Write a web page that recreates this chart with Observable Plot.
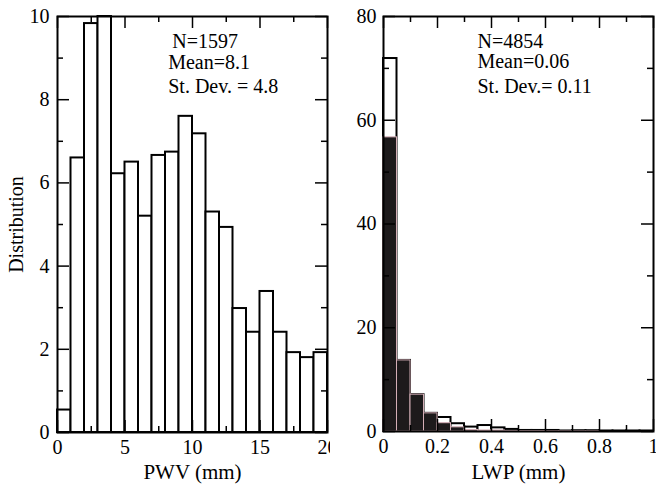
<!DOCTYPE html>
<html>
<head>
<meta charset="utf-8">
<script src="https://cdn.jsdelivr.net/npm/d3@7"></script>
<script src="https://cdn.jsdelivr.net/npm/@observablehq/plot@0.6"></script>
<style>
  body { margin: 0; background: #fff; }
  #wrap { position: relative; width: 656px; height: 486px; background: #fff; }
  #left { position: absolute; left: 0; top: 0; width: 330px; height: 486px; overflow: hidden; }
  #right { position: absolute; left: 330px; top: 0; width: 326px; height: 486px; overflow: hidden; }
</style>
</head>
<body>
<div id="wrap"><div id="left"></div><div id="right"></div></div>
<script>
// ---- Left panel: PWV histogram ----
const pwvBinStart = [0,1,2,3,4,5,6,7,8,9,10,11,12,13,14,15,16,17,18,19];
const pwvBinEnd   = [1,2,3,4,5,6,7,8,9,10,11,12,13,14,15,16,17,18,19,20];
const pwvValues   = [0.54,6.6,9.83,10.0,6.22,6.5,5.2,6.66,6.74,7.6,7.18,5.3,4.93,2.98,2.41,3.39,2.41,1.92,1.8,1.92];
const pwvXTickLabels = [0,5,10,15,20];
const pwvXMinor = [2.5,7.5,12.5,17.5];
const pwvYTickLabels = [0,2,4,6,8,10];
const pwvYMinor = [1,3,5,7,9];
const pwvStats = ["N=1597","Mean=8.1","St. Dev. = 4.8"];
const pwvXLabel = "PWV (mm)";
const pwvYLabel = "Distribution";

// ---- Right panel: LWP histogram ----
const lwpBinStart = [0,0.05,0.1,0.15,0.2,0.25,0.3,0.35,0.4,0.45,0.5,0.55,0.6,0.65,0.7,0.75,0.8,0.85,0.9,0.95];
const lwpBinEnd   = [0.05,0.1,0.15,0.2,0.25,0.3,0.35,0.4,0.45,0.5,0.55,0.6,0.65,0.7,0.75,0.8,0.85,0.9,0.95,1.0];
const lwpAll      = [71.9,13.7,7.1,3.5,2.7,1.5,0.85,1.15,0.7,0.4,0.2,0.2,0.2,0.1,0.15,0.15,0.1,0.1,0.1,0.1];
const lwpFilled   = [56.7,13.7,7.1,3.5,1.6,0.8,0.3,0.2,0.2,0.1,0.1,0.1,0.05,0.05,0.05,0.05,0,0,0,0];
const lwpXTickLabels = [0,0.2,0.4,0.6,0.8,1];
const lwpXMinor = [0.1,0.3,0.5,0.7,0.9];
const lwpYTickLabels = [0,20,40,60,80];
const lwpYMinor = [10,30,50,70];
const lwpStats = ["N=4854","Mean=0.06","St. Dev.= 0.11"];
const lwpXLabel = "LWP (mm)";

const FONT = "'Liberation Serif', 'DejaVu Serif', serif";
const MAJ = 12, MIN = 6;

function ticksMarks(innerW, innerH, xMaj, xMin, yMaj, yMin) {
  const sw = 1.5;
  return [
    Plot.tickX(xMaj, {x: d => d, insetTop: innerH - MAJ, strokeWidth: sw}),
    Plot.tickX(xMin, {x: d => d, insetTop: innerH - MIN, strokeWidth: sw}),
    Plot.tickX(xMaj, {x: d => d, insetBottom: innerH - MAJ, strokeWidth: sw}),
    Plot.tickX(xMin, {x: d => d, insetBottom: innerH - MIN, strokeWidth: sw}),
    Plot.tickY(yMaj, {y: d => d, insetRight: innerW - MAJ, strokeWidth: sw}),
    Plot.tickY(yMin, {y: d => d, insetRight: innerW - MIN, strokeWidth: sw}),
    Plot.tickY(yMaj, {y: d => d, insetLeft: innerW - MAJ, strokeWidth: sw}),
    Plot.tickY(yMin, {y: d => d, insetLeft: innerW - MIN, strokeWidth: sw})
  ];
}

// Left
{
  const W = 330, H = 486, mL = 57, mR = 3, mT = 16, mB = 54;
  const data = pwvValues.map((v, i) => ({x1: pwvBinStart[i], x2: pwvBinEnd[i], y: v}));
  const stats = pwvStats.map((t, i) => ({t, x: [8.5, 8.2, 8.2][i], y: [9.25, 8.75, 8.16][i]}));
  const chart = Plot.plot({
    width: W, height: H,
    marginLeft: mL, marginRight: mR, marginTop: mT, marginBottom: mB,
    style: {fontFamily: FONT, fontSize: "20px", background: "white", color: "black", overflow: "visible"},
    x: {domain: [0, 20]},
    y: {domain: [0, 10]},
    marks: [
      Plot.rectY(data, {x1: "x1", x2: "x2", y: "y", fill: "white", stroke: "black", strokeWidth: 2}),
      ...ticksMarks(W - mL - mR, H - mT - mB, pwvXTickLabels, pwvXMinor, pwvYTickLabels, pwvYMinor),
      Plot.frame({stroke: "black", strokeWidth: 2}),
      Plot.axisX({ticks: pwvXTickLabels, tickSize: 0, tickPadding: 7, fontSize: 20, label: null}),
      Plot.axisY({ticks: pwvYTickLabels, tickSize: 0, tickPadding: 8, fontSize: 20,
        label: pwvYLabel, labelAnchor: "center", labelArrow: "none", labelOffset: 49}),
      Plot.text([pwvXLabel], {text: d => d, frameAnchor: "bottom", dy: 46, lineAnchor: "bottom", fontSize: 21}),
      Plot.text(stats, {x: "x", y: "y", text: "t", textAnchor: "start", lineAnchor: "bottom", fontSize: 20})
    ]
  });
  document.getElementById("left").appendChild(chart);
}

// Right
{
  const W = 326, H = 486, mL = 53, mR = 3, mT = 16, mB = 55;
  const all = lwpAll.map((v, i) => ({x1: lwpBinStart[i], x2: lwpBinEnd[i], y: v}));
  const filled = lwpFilled.map((v, i) => ({x1: lwpBinStart[i], x2: lwpBinEnd[i], y: v})).filter(d => d.y > 0);
  const stats = lwpStats.map((t, i) => ({t, x: 0.348, y: [74.0, 70.0, 65.3][i]}));
  const chart = Plot.plot({
    width: W, height: H,
    marginLeft: mL, marginRight: mR, marginTop: mT, marginBottom: mB,
    style: {fontFamily: FONT, fontSize: "20px", background: "white", color: "black", overflow: "visible"},
    x: {domain: [0, 1]},
    y: {domain: [0, 80]},
    marks: [
      Plot.rectY(all, {x1: "x1", x2: "x2", y: "y", fill: "white", stroke: "black", strokeWidth: 2}),
      Plot.rectY(filled, {x1: "x1", x2: "x2", y: "y", fill: "#1d1a1b", stroke: "#d4aeb6", strokeWidth: 1}),
      ...ticksMarks(W - mL - mR, H - mT - mB, lwpXTickLabels, lwpXMinor, lwpYTickLabels, lwpYMinor),
      Plot.frame({stroke: "black", strokeWidth: 2}),
      Plot.axisX({ticks: lwpXTickLabels, tickSize: 0, tickPadding: 7, fontSize: 20, tickFormat: d => String(d), label: null}),
      Plot.axisY({ticks: lwpYTickLabels, tickSize: 0, tickPadding: 7, fontSize: 20, label: null}),
      Plot.text([lwpXLabel], {text: d => d, frameAnchor: "bottom", dy: 47, lineAnchor: "bottom", fontSize: 21}),
      Plot.text(stats, {x: "x", y: "y", text: "t", textAnchor: "start", lineAnchor: "bottom", fontSize: 20})
    ]
  });
  document.getElementById("right").appendChild(chart);
}
</script>
</body>
</html>
